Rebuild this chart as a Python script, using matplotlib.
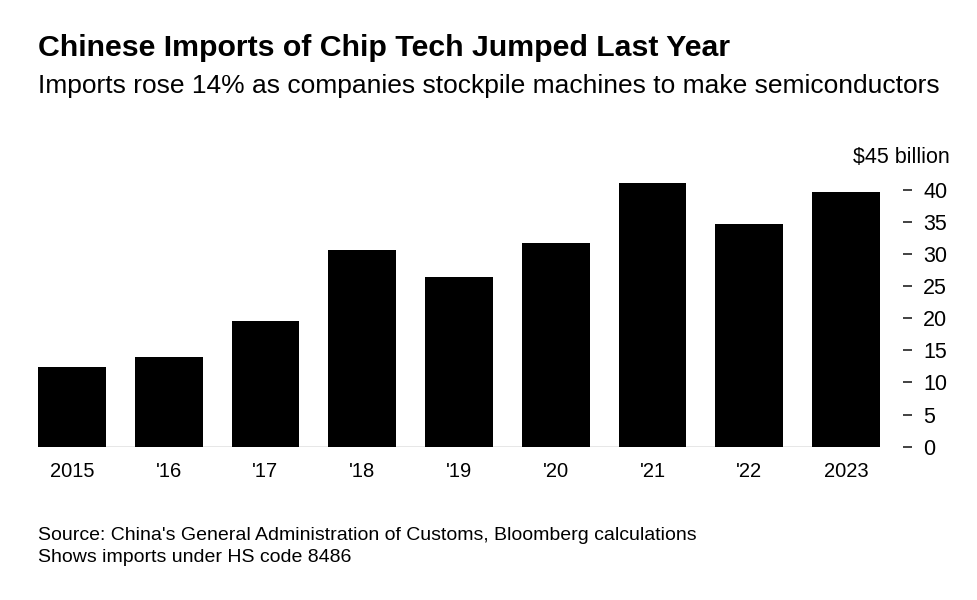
import matplotlib.pyplot as plt

years = ["2015", "'16", "'17", "'18", "'19", "'20", "'21", "'22", "2023"]
imports = [12.4, 14.0, 19.6, 30.7, 26.4, 31.7, 41.0, 34.7, 39.6]
yticks = [0, 5, 10, 15, 20, 25, 30, 35, 40]

plt.rcParams['font.family'] = ['Liberation Sans', 'DejaVu Sans']

fig = plt.figure(figsize=(9.77, 6.0), dpi=100)
ax = fig.add_axes([38 / 977, 1 - 446.7 / 600, (880 - 38) / 977, (446.7 - 157.8) / 600])

x = list(range(len(years)))
ax.bar(x, imports, width=0.7, color='black', zorder=2)
ax.axhline(0, color='#888888', lw=1, zorder=1)

ax.set_xlim(-0.35, 8.35)
ax.set_ylim(0, 45)
ax.set_xticks(x)
ax.set_xticklabels(years)
ax.set_yticks(yticks)
ax.set_yticklabels([str(t) for t in yticks])

ax.yaxis.tick_right()
ax.spines['right'].set_position(('outward', 16.5))
for s in ['top', 'left', 'bottom', 'right']:
    ax.spines[s].set_visible(False)
ax.tick_params(axis='y', length=6.5, width=1.2, color='#222222', pad=8, labelsize=15.5)
ax.tick_params(axis='x', length=0, pad=11, labelsize=14.5)

ax.annotate("$45 billion", xy=(1, 45), xycoords=('axes fraction', 'data'),
            xytext=(50, 0), textcoords='offset points', ha='right', va='center',
            fontsize=15.5)

fig.text(38 / 977, 1 - 56 / 600, "Chinese Imports of Chip Tech Jumped Last Year",
         fontsize=21.8, fontweight='bold', va='baseline')
fig.text(38 / 977, 1 - 93 / 600,
         "Imports rose 14% as companies stockpile machines to make semiconductors",
         fontsize=19, va='baseline')
fig.text(38 / 977, 1 - 540 / 600,
         "Source: China's General Administration of Customs, Bloomberg calculations",
         fontsize=14, va='baseline')
fig.text(38 / 977, 1 - 562 / 600, "Shows imports under HS code 8486",
         fontsize=14, va='baseline')

fig.savefig('out.png', dpi=100)
